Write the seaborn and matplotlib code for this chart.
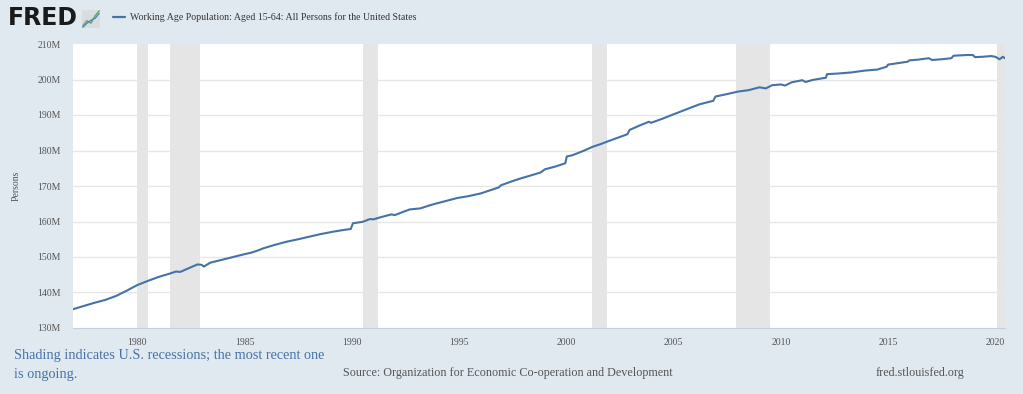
import matplotlib
matplotlib.use('Agg')
import matplotlib.pyplot as plt
import matplotlib.ticker as mticker
import seaborn as sns
import pandas as pd

# working age population (millions)
years = [1977.0, 1977.5, 1978.0, 1978.5, 1979.0, 1979.5, 1980.0, 1980.5, 1981.0, 1981.5,
         1981.8, 1982.0, 1982.3, 1982.8, 1983.0, 1983.1, 1983.4, 1983.8, 1984.2, 1984.6,
         1985.0, 1985.3, 1985.6, 1985.9, 1986.4, 1986.95, 1987.5, 1988.0, 1988.5, 1989.1,
         1989.5, 1989.95, 1990.05, 1990.5, 1990.85, 1991.0, 1991.4, 1991.85, 1992.0, 1992.3,
         1992.7, 1993.2, 1993.6, 1993.95, 1994.4, 1994.9, 1995.4, 1996.0, 1996.5, 1996.85,
         1996.95, 1997.4, 1997.85, 1998.3, 1998.8, 1999.0, 1999.5, 1999.95, 2000.02, 2000.3,
         2000.8, 2001.25, 2001.6, 2001.9, 2002.4, 2002.85, 2002.95, 2003.4, 2003.85, 2003.95,
         2004.5, 2005.0, 2005.6, 2006.2, 2006.85, 2006.95, 2007.5, 2008.0, 2008.5, 2009.0,
         2009.3, 2009.6, 2010.0, 2010.2, 2010.5, 2011.0, 2011.15, 2011.5, 2012.0, 2012.1,
         2012.15, 2012.7, 2013.3, 2013.9, 2014.5, 2014.93, 2015.0, 2015.9, 2016.0, 2016.4,
         2016.9, 2017.05, 2017.5, 2017.95, 2018.05, 2018.7, 2018.95, 2019.05, 2019.4, 2019.8,
         2020.0, 2020.2, 2020.35, 2020.45]
persons = [135.3, 136.2, 137.1, 137.9, 139.0, 140.5, 142.1, 143.3, 144.4, 145.3,
           145.9, 145.8, 146.6, 147.9, 147.8, 147.3, 148.4, 149.0, 149.6, 150.2,
           150.8, 151.2, 151.8, 152.5, 153.4, 154.3, 155.0, 155.7, 156.4, 157.1,
           157.5, 157.9, 159.5, 159.9, 160.7, 160.6, 161.3, 162.0, 161.8, 162.5,
           163.4, 163.7, 164.5, 165.1, 165.8, 166.6, 167.1, 167.9, 168.9, 169.6,
           170.2, 171.2, 172.1, 172.9, 173.8, 174.7, 175.5, 176.4, 178.3, 178.7,
           179.9, 181.1, 181.8, 182.5, 183.6, 184.6, 185.8, 187.0, 188.1, 187.8,
           189.0, 190.2, 191.6, 193.0, 194.0, 195.2, 195.9, 196.6, 197.0, 197.8,
           197.5, 198.4, 198.6, 198.3, 199.2, 199.8, 199.3, 199.9, 200.4, 200.5,
           201.5, 201.7, 202.0, 202.5, 202.8, 203.6, 204.2, 205.0, 205.4, 205.6,
           206.0, 205.5, 205.7, 206.0, 206.7, 206.9, 206.9, 206.3, 206.4, 206.6,
           206.4, 205.7, 206.4, 206.0]

# recessions (start, end)
rec_start = [1980.0, 1981.5, 1990.5, 2001.2, 2007.9, 2020.1]
rec_end = [1980.5, 1982.9, 1991.2, 2001.9, 2009.5, 2020.45]

xticks = [1980, 1985, 1990, 1995, 2000, 2005, 2010, 2015, 2020]
yticks = [130, 140, 150, 160, 170, 180, 190, 200, 210]

df = pd.DataFrame({'year': years, 'persons': persons})

bg = '#e1e9f0'
line_col = '#4572a7'
serif = ['Liberation Serif', 'DejaVu Serif']

sns.set_style('white')
plt.rcParams['font.family'] = serif

fig = plt.figure(figsize=(10.23, 3.94), dpi=100, facecolor=bg)
ax = fig.add_axes([73 / 1023, 1 - 328 / 394, 932 / 1023, 284 / 394])
ax.set_facecolor('white')

for s, e in zip(rec_start, rec_end):
    ax.axvspan(s, e, color='#e5e5e5', lw=0, zorder=0)

for y in yticks[1:-1]:
    ax.axhline(y, color='#e6e6e6', lw=1, zorder=0.5)

sns.lineplot(data=df, x='year', y='persons', color=line_col, lw=1.5, ax=ax, zorder=3)

ax.set_xlim(1977.0, 2020.45)
ax.set_ylim(130, 210)
ax.set_xticks(xticks)
ax.set_yticks(yticks)
ax.yaxis.set_major_formatter(mticker.FuncFormatter(lambda v, p: f'{int(v)}M'))
ax.tick_params(axis='x', length=6, color='#c0d0e0', labelsize=7, labelcolor='#555555', pad=1)
ax.tick_params(axis='y', length=0, labelsize=7, labelcolor='#555555', pad=9)
for side in ['top', 'right', 'left']:
    ax.spines[side].set_visible(False)
ax.spines['bottom'].set_color('#c0d0e0')
ax.set_xlabel('')
ax.set_ylabel('Persons', fontsize=7, color='#555555', labelpad=12)

# header
fig.text(8 / 1023, 1 - 18 / 394, 'FRED', fontsize=17, fontweight='bold', family='DejaVu Sans',
         color='#1a1a1a', va='center', ha='left')
icon = fig.add_axes([82 / 1023, 1 - 28 / 394, 18 / 1023, 18 / 394])
icon.set_facecolor('#d8dde2')
icon.plot([0, 1, 2, 3, 4], [0.5, 1.5, 1.0, 2.5, 3.5], color='#6aa84f', lw=1)
icon.plot([0, 1, 2, 3, 4], [0.2, 1.0, 1.6, 2.0, 3.0], color='#4a86c8', lw=1)
icon.set_xticks([])
icon.set_yticks([])
for sp in icon.spines.values():
    sp.set_visible(False)

fig.add_artist(plt.Line2D([113 / 1023, 125 / 1023], [1 - 17 / 394, 1 - 17 / 394],
                          color=line_col, lw=1.6))
fig.text(130 / 1023, 1 - 17 / 394,
         'Working Age Population: Aged 15-64: All Persons for the United States',
         fontsize=7.1, color='#333333', va='center', ha='left')

# footer
fig.text(14 / 1023, 1 - 365 / 394,
         'Shading indicates U.S. recessions; the most recent one\nis ongoing.',
         fontsize=10.3, color=line_col, va='center', ha='left', linespacing=1.55)
fig.text(343 / 1023, 1 - 373 / 394,
         'Source: Organization for Economic Co-operation and Development',
         fontsize=8.7, color='#555555', va='center', ha='left')
fig.text(876 / 1023, 1 - 373 / 394, 'fred.stlouisfed.org',
         fontsize=8.7, color='#555555', va='center', ha='left')

plt.savefig('out.png', dpi=100, facecolor=bg)
